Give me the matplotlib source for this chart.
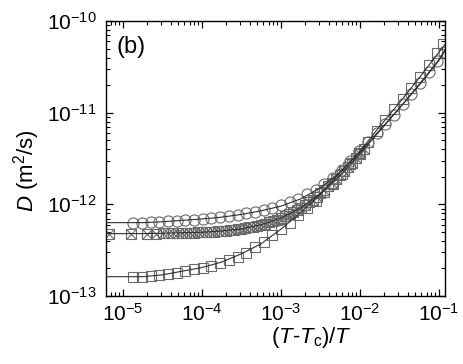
import numpy as np
import matplotlib
matplotlib.use("Agg")
import matplotlib.pyplot as plt

plt.rcParams['font.family'] = ['Liberation Sans', 'DejaVu Sans']
plt.rcParams['mathtext.fontset'] = 'custom'
plt.rcParams['mathtext.rm'] = 'Liberation Sans'
plt.rcParams['mathtext.it'] = 'Liberation Sans:italic'

# log10((T-Tc)/T) and log10(D)

# circles
lt_circ = [-4.87, -4.76, -4.65, -4.54, -4.43, -4.32, -4.21, -4.10, -3.99, -3.88,
           -3.77, -3.66, -3.55, -3.44, -3.33, -3.22, -3.11, -3.00, -2.89, -2.78,
           -2.67, -2.56, -2.45, -2.34, -2.23, -2.12, -2.01, -1.90, -1.79, -1.68,
           -1.57, -1.46, -1.35, -1.24, -1.13, -1.02, -0.93]
lD_circ = [-12.20, -12.20, -12.19, -12.19, -12.18, -12.18, -12.17, -12.17, -12.16, -12.15,
           -12.14, -12.13, -12.12, -12.10, -12.08, -12.06, -12.04, -12.01, -11.98, -11.94,
           -11.89, -11.84, -11.78, -11.71, -11.62, -11.53, -11.42, -11.32, -11.22, -11.12,
           -11.02, -10.91, -10.80, -10.68, -10.56, -10.44, -10.34]

# crossed squares
lt_cross = [-5.18, -4.90, -4.70, -4.58, -4.49, -4.43, -4.37,
            -4.30, -4.25, -4.20, -4.15, -4.10, -4.05, -4.00, -3.95, -3.90, -3.85,
            -3.80, -3.75, -3.70, -3.65, -3.60, -3.55, -3.50, -3.45, -3.40, -3.35,
            -3.30, -3.25, -3.20, -3.15, -3.10, -3.05, -3.00, -2.95, -2.90, -2.85,
            -2.80, -2.75, -2.70, -2.65, -2.60, -2.55, -2.50, -2.45, -2.40, -2.35,
            -2.30, -2.25, -2.20, -2.15, -2.10, -2.05, -2.00, -1.95]
lD_cross = [-12.32, -12.32, -12.32, -12.32, -12.315, -12.315, -12.315,
            -12.313, -12.312, -12.311, -12.310, -12.308, -12.307, -12.305, -12.303, -12.300, -12.298,
            -12.295, -12.291, -12.288, -12.283, -12.278, -12.273, -12.267, -12.260, -12.252, -12.244,
            -12.234, -12.223, -12.211, -12.198, -12.184, -12.168, -12.150, -12.131, -12.110, -12.088,
            -12.064, -12.038, -12.009, -11.980, -11.948, -11.915, -11.880, -11.843, -11.804, -11.764,
            -11.722, -11.680, -11.635, -11.590, -11.544, -11.496, -11.447, -11.398]

# open squares
lt_sq = [-4.87, -4.76, -4.65, -4.54, -4.43, -4.32, -4.21, -4.10, -3.99, -3.88,
         -3.77, -3.66, -3.55, -3.44, -3.33, -3.22, -3.11, -3.00, -2.89, -2.78,
         -2.67, -2.56, -2.45, -2.34, -2.23, -2.12, -2.01, -1.90, -1.79, -1.68,
         -1.57, -1.46, -1.35, -1.24, -1.13, -1.02, -0.95]
lD_sq = [-12.79, -12.79, -12.78, -12.77, -12.76, -12.75, -12.73, -12.71, -12.69, -12.67,
         -12.64, -12.61, -12.57, -12.53, -12.47, -12.41, -12.34, -12.27, -12.20, -12.12,
         -12.04, -11.96, -11.87, -11.78, -11.67, -11.56, -11.44, -11.32, -11.20, -11.08,
         -10.96, -10.85, -10.73, -10.61, -10.48, -10.35, -10.25]

# fit lines
lt_fit = [-5.25, -4.75, -4.5, -4.0, -3.75, -3.5, -3.25, -3.0, -2.75, -2.5, -2.25,
          -2.0, -1.75, -1.5, -1.25, -1.0, -0.92]
lD_fit_circ = [-12.20, -12.20, -12.19, -12.16, -12.14, -12.11, -12.07, -12.02, -11.94, -11.82, -11.65,
               -11.43, -11.19, -10.95, -10.70, -10.43, -10.32]
lD_fit_cross = [-12.32, -12.32, -12.316, -12.305, -12.291, -12.267, -12.223, -12.150, -12.038, -11.880, -11.680,
                -11.447, -11.20, -10.95, -10.69, -10.42, -10.31]
lD_fit_sq = [-12.79, -12.79, -12.77, -12.69, -12.63, -12.54, -12.43, -12.27, -12.09, -11.89, -11.65,
             -11.42, -11.15, -10.89, -10.62, -10.34, -10.25]

xticks = [1e-5, 1e-4, 1e-3, 1e-2, 1e-1]
yticks = [1e-13, 1e-12, 1e-11, 1e-10]

fig = plt.figure(figsize=(4.63, 3.64), dpi=100)
ax = fig.add_axes([0.229, 0.187, 0.732, 0.755])

mcol = '#6a6a6a'
lcol = '#303030'

def p10(a):
    return 10.0 ** np.asarray(a)

for ly in (lD_fit_circ, lD_fit_cross, lD_fit_sq):
    ax.plot(p10(lt_fit), p10(ly), '-', color=lcol, lw=0.8, zorder=3)

ax.plot(p10(lt_circ), p10(lD_circ), 'o', ms=8, mfc='none', mec=mcol, mew=0.8, zorder=2)
ax.plot(p10(lt_sq), p10(lD_sq), 's', ms=7.2, mfc='none', mec=mcol, mew=0.8, zorder=2)
ax.plot(p10(lt_cross), p10(lD_cross), 's', ms=6.8, mfc='none', mec=mcol, mew=0.8, zorder=2)
ax.plot(p10(lt_cross), p10(lD_cross), 'x', ms=6.6, mec=mcol, mew=0.8, zorder=2)

ax.set_xscale('log')
ax.set_yscale('log')
ax.set_xlim(10 ** -5.215, 10 ** -0.924)
ax.set_ylim(1e-13, 1e-10)
ax.xaxis.set_major_locator(matplotlib.ticker.FixedLocator(xticks))
ax.yaxis.set_major_locator(matplotlib.ticker.FixedLocator(yticks))
ax.xaxis.set_major_formatter(matplotlib.ticker.LogFormatterSciNotation())
ax.yaxis.set_major_formatter(matplotlib.ticker.LogFormatterSciNotation())
ax.xaxis.set_minor_formatter(matplotlib.ticker.NullFormatter())
ax.yaxis.set_minor_formatter(matplotlib.ticker.NullFormatter())

ax.tick_params(which='both', direction='in', top=True, right=True, labelsize=15)
ax.tick_params(which='major', length=5, width=0.9)
ax.tick_params(which='minor', length=3, width=0.8)
ax.tick_params(axis='x', which='major', pad=5)
ax.tick_params(axis='y', which='major', pad=7)
for s in ax.spines.values():
    s.set_linewidth(1.0)

ax.set_xlabel(r'$(\mathit{T}$-$\mathit{T}_\mathrm{c})/\mathit{T}$', fontsize=16)
ax.xaxis.set_label_coords(0.605, -0.105, transform=ax.transAxes)
ax.xaxis.label.set_va('top')
ax.set_ylabel(r'$\mathit{D}$ (m$^2$/s)', fontsize=16)
ax.yaxis.set_label_coords(-0.19, 0.458, transform=ax.transAxes)

ax.text(0.03, 0.905, '(b)', transform=ax.transAxes, fontsize=17, ha='left', va='center')

fig.savefig('out.png', dpi=100)
